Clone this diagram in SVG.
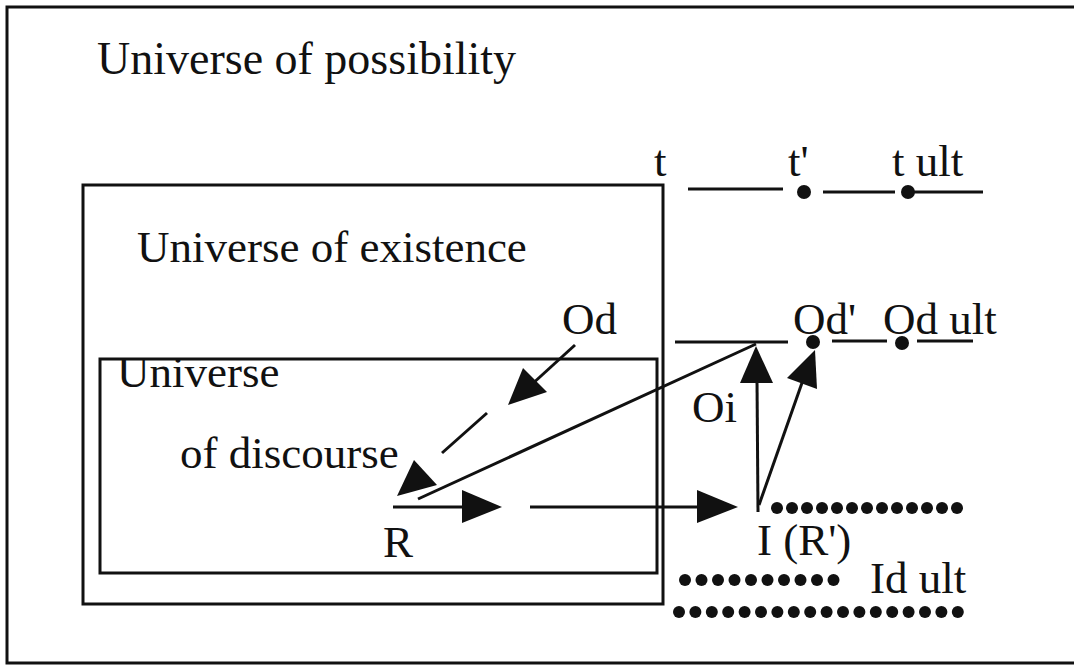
<svg xmlns="http://www.w3.org/2000/svg" width="1074" height="666" viewBox="0 0 1074 666">
<defs>
<style>
text{font-family:"Liberation Serif","Times New Roman",serif;font-size:45px;fill:#111}
.box{fill:none;stroke:#111;stroke-width:3}
.ln{fill:none;stroke:#111;stroke-width:3}
.ah{fill:#111;stroke:none}
.dot{fill:#111}
</style>
</defs>
<rect width="1074" height="666" fill="#fff"/>
<g id="possibility">
<path class="box" d="M1080 7 H7 V663 H1080"/>
<text x="97" y="74" style="font-size:46px">Universe of possibility</text>
</g>
<g id="existence">
<rect class="box" x="83" y="185" width="580" height="419"/>
<text x="137" y="262">Universe of existence</text>
</g>
<g id="discourse">
<rect class="box" x="100" y="359" width="557" height="214"/>
<text x="117" y="387">Universe</text>
<text x="180" y="468">of discourse</text>
</g>
<g id="timeline-t">
<text x="654" y="176">t</text>
<text x="788" y="176">t'</text>
<text x="892" y="176">t ult</text>
<line class="ln" x1="688" y1="189" x2="783" y2="189"/>
<circle class="dot" cx="804" cy="192" r="7"/>
<line class="ln" x1="823" y1="192" x2="895" y2="192"/>
<circle class="dot" cx="908" cy="192" r="7"/>
<line class="ln" x1="913" y1="192" x2="983" y2="192"/>
</g>
<g id="Od">
<text x="562" y="334">Od</text>
</g>
<g id="timeline-Od">
<line class="ln" x1="675" y1="342" x2="788" y2="342"/>
<text x="793" y="334">Od'</text>
<circle class="dot" cx="813" cy="342" r="7"/>
<line class="ln" x1="832" y1="341" x2="887" y2="341"/>
<text x="883" y="334">Od ult</text>
<circle class="dot" cx="902" cy="343" r="7"/>
<line class="ln" x1="917" y1="341" x2="973" y2="341"/>
</g>
<g id="Oi"><text x="692" y="422">Oi</text></g>
<g id="R"><text x="383" y="557">R</text></g>
<g id="I"><text x="757" y="555">I (R')</text></g>
<g id="Id-ult">
<text x="870" y="593">Id ult</text>
</g>
<g id="dots">
<g class="dot">
<circle cx="777" cy="508" r="6"/><circle cx="792" cy="508" r="6"/><circle cx="807" cy="508" r="6"/><circle cx="822" cy="508" r="6"/><circle cx="837" cy="508" r="6"/><circle cx="852" cy="508" r="6"/><circle cx="867" cy="508" r="6"/><circle cx="882" cy="508" r="6"/><circle cx="897" cy="508" r="6"/><circle cx="912" cy="508" r="6"/><circle cx="927" cy="508" r="6"/><circle cx="942" cy="508" r="6"/><circle cx="957" cy="508" r="6"/>
<circle cx="685" cy="580" r="6"/><circle cx="701.5" cy="580" r="6"/><circle cx="718" cy="580" r="6"/><circle cx="734.5" cy="580" r="6"/><circle cx="751" cy="580" r="6"/><circle cx="767.5" cy="580" r="6"/><circle cx="784" cy="580" r="6"/><circle cx="800.5" cy="580" r="6"/><circle cx="817" cy="580" r="6"/><circle cx="833.5" cy="580" r="6"/>
<circle cx="679" cy="612" r="6"/><circle cx="695.4" cy="612" r="6"/><circle cx="711.8" cy="612" r="6"/><circle cx="728.2" cy="612" r="6"/><circle cx="744.6" cy="612" r="6"/><circle cx="761" cy="612" r="6"/><circle cx="777.4" cy="612" r="6"/><circle cx="793.8" cy="612" r="6"/><circle cx="810.2" cy="612" r="6"/><circle cx="826.6" cy="612" r="6"/><circle cx="843" cy="612" r="6"/><circle cx="859.4" cy="612" r="6"/><circle cx="875.8" cy="612" r="6"/><circle cx="892.2" cy="612" r="6"/><circle cx="908.6" cy="612" r="6"/><circle cx="925" cy="612" r="6"/><circle cx="941.4" cy="612" r="6"/><circle cx="957.8" cy="612" r="6"/>
</g>
</g>
<g id="connectors">
<line class="ln" x1="575" y1="345" x2="530" y2="386"/>
<polygon class="ah" points="508,405 523,368 547,392"/>
<line class="ln" x1="487" y1="413" x2="442" y2="453"/>
<polygon class="ah" points="397,496 414,460 437,485"/>
<line class="ln" x1="418" y1="499" x2="756" y2="344"/>
<line class="ln" x1="393" y1="507" x2="465" y2="507"/>
<polygon class="ah" points="502,507 462,490 462,523"/>
<line class="ln" x1="530" y1="507" x2="700" y2="507"/>
<polygon class="ah" points="738,507 697,490 697,523"/>
<line class="ln" x1="758" y1="512" x2="757" y2="380"/>
<polygon class="ah" points="756,346 740,383 773,383"/>
<line class="ln" x1="759" y1="505" x2="803" y2="380"/>
<polygon class="ah" points="815,350 787,378 817,389"/>
</g>
</svg>
